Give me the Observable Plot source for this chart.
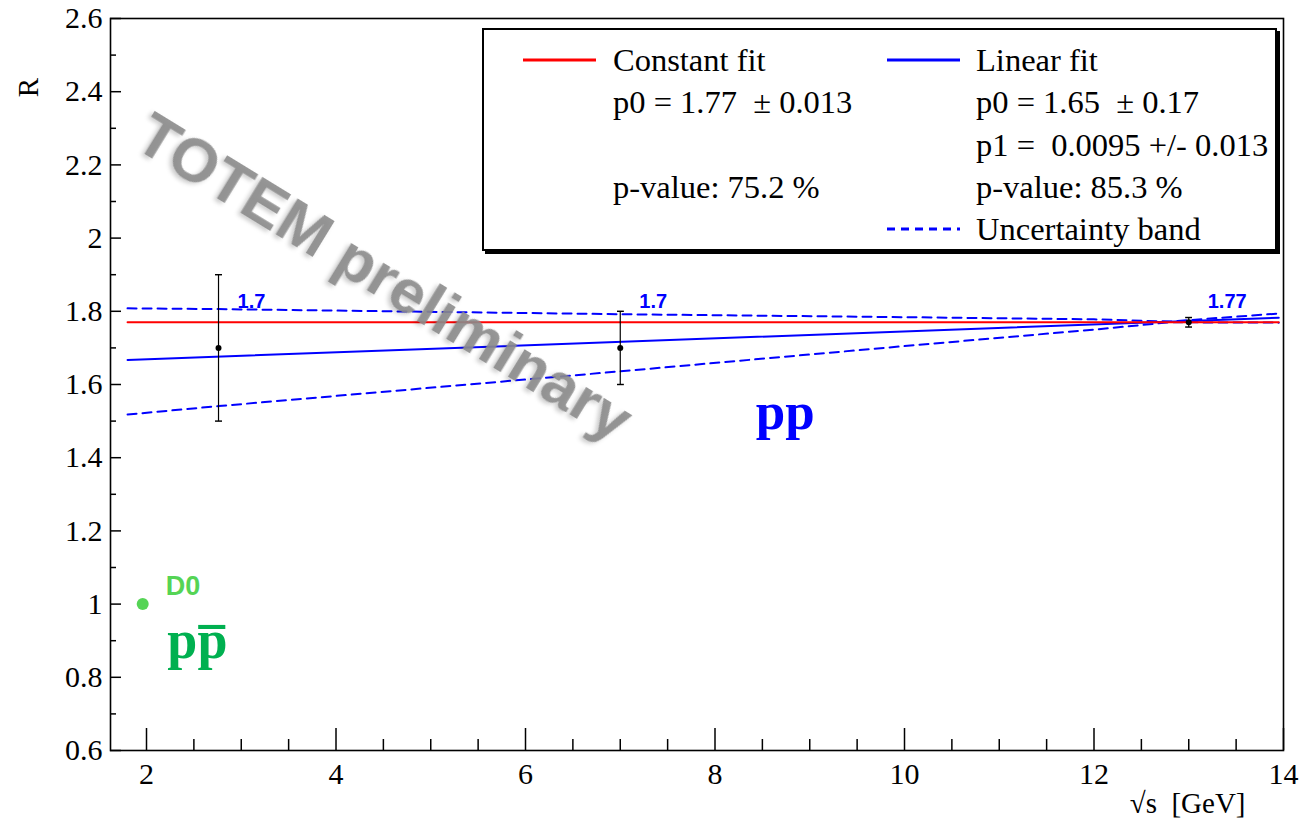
<!DOCTYPE html>
<html>
<head>
<meta charset="utf-8">
<script src="https://cdn.jsdelivr.net/npm/d3@7"></script>
<script src="https://cdn.jsdelivr.net/npm/@observablehq/plot@0.6"></script>
<style>
  html, body { margin: 0; padding: 0; background: #fff; }
  #wrap { position: relative; width: 1303px; height: 823px; }
  #wrap svg text { white-space: pre; }
  #wrap svg g[aria-label*="tick label"] text {
    font-family: "Liberation Serif", "Times New Roman", serif !important;
    font-variant-numeric: normal !important;
  }
  #legend {
    position: absolute; left: 482px; top: 28px; width: 795px; height: 223px;
    box-sizing: border-box; border: 2px solid #000; box-shadow: 3px 3px 0 #000;
    background: #fff; font-family: "Liberation Serif", "Times New Roman", serif;
    font-size: 32.5px; color: #000;
  }
  .lg-swatch { position: absolute; width: 73px; height: 6px; transform: translateY(-50%); }
  .lg-text { position: absolute; white-space: pre; line-height: 1; transform: translateY(-50%); }
</style>
</head>
<body>
<div id="wrap"></div>
<script>
// Measured ratio R at each collision energy (TeV)
const energies = [2.76, 7, 13];
const ratios = [1.7, 1.7, 1.77];
const ratioErrors = [0.2, 0.1, 0.013];

// Tevatron p-pbar measurement
const d0Energy = [1.96];
const d0Ratio = [1.0];

// Fit results
const constP0 = 1.77, constP0Err = 0.013, constPValue = 75.2;
const linP0 = 1.65, linP0Err = 0.17, linP1 = 0.0095, linP1Err = 0.013, linPValue = 85.3;
const fitRange = [1.8, 13.95];

// Uncertainty band of the linear fit
const bandEnergy = [1.8, 2.76, 7, 10, 12, 12.8, 13.95];
const bandUpper  = [1.808, 1.806, 1.792, 1.784, 1.778, 1.772, 1.794];
const bandLower  = [1.518, 1.541, 1.636, 1.705, 1.750, 1.770, 1.769];

// Axis ticks
const xTicks = [2, 4, 6, 8, 10, 12, 14];
const yTicks = [0.6, 0.8, 1, 1.2, 1.4, 1.6, 1.8, 2, 2.2, 2.4, 2.6];
const xMinor = d3.range(2.5, 14, 0.5).filter(v => v % 2 !== 0);
const yMinor = d3.range(0.7, 2.6, 0.2);

const points = energies.map((e, i) => ({e, r: ratios[i], err: ratioErrors[i]}));
const d0 = d0Energy.map((e, i) => ({e, r: d0Ratio[i]}));
const constLine = fitRange.map(e => ({e, r: constP0}));
const linLine = fitRange.map(e => ({e, r: linP0 + linP1 * e}));
const upper = bandEnergy.map((e, i) => ({e, r: bandUpper[i]}));
const lower = bandEnergy.map((e, i) => ({e, r: bandLower[i]}));

const W = 1303, H = 823;
const mL = 110, mR = 20, mT = 18, mB = 73;
const plotW = W - mL - mR, plotH = H - mT - mB;
const serif = "'Liberation Serif', 'Times New Roman', serif";
const sans = "'Liberation Sans', Arial, sans-serif";
const labelRow = 1.827;

const chart = Plot.plot({
  width: W, height: H,
  marginLeft: mL, marginRight: mR, marginTop: mT, marginBottom: mB,
  x: {domain: [1.62, 14]},
  y: {domain: [0.6, 2.6]},
  style: {fontFamily: serif, fontSize: "30px", background: "#fff", overflow: "visible"},
  marks: [
    // ticks drawn inward from the frame
    Plot.ruleX(xMinor, {x: d => d, insetTop: plotH - 11, stroke: "#000", strokeWidth: 1.5}),
    Plot.ruleX(xTicks, {x: d => d, insetTop: plotH - 22, stroke: "#000", strokeWidth: 1.5}),
    Plot.ruleY(yMinor, {y: d => d, insetRight: plotW - 6, stroke: "#000", strokeWidth: 1.5}),
    Plot.ruleY(yTicks, {y: d => d, insetRight: plotW - 11, stroke: "#000", strokeWidth: 1.5}),
    Plot.axisX({ticks: xTicks, tickSize: 0, tickPadding: 12, tickFormat: d => String(d),
      fontFamily: serif, fontSize: 30, fill: "#000", label: null}),
    Plot.axisY({ticks: yTicks, tickSize: 0, tickPadding: 8, tickFormat: d => String(+d.toFixed(1)),
      fontFamily: serif, fontSize: 30, fill: "#000", label: null}),
    Plot.text(["\u221As  [GeV]"], {frameAnchor: "bottom-right", dx: -38, dy: 53, textAnchor: "end",
      lineAnchor: "middle", fontFamily: serif, fontSize: 29}),
    Plot.text(["R"], {frameAnchor: "top-left", dx: -82, dy: 69, rotate: -90, textAnchor: "middle",
      lineAnchor: "middle", fontFamily: serif, fontSize: 29}),

    // fits and band
    Plot.line(upper, {x: "e", y: "r", stroke: "#0000ff", strokeWidth: 2, strokeDasharray: "9,6"}),
    Plot.line(lower, {x: "e", y: "r", stroke: "#0000ff", strokeWidth: 2, strokeDasharray: "9,6"}),
    Plot.line(linLine, {x: "e", y: "r", stroke: "#0000ff", strokeWidth: 2}),
    Plot.line(constLine, {x: "e", y: "r", stroke: "#ff0000", strokeWidth: 2}),

    // measurements
    Plot.link(points, {x1: "e", x2: "e", y1: d => d.r - d.err, y2: d => d.r + d.err,
      stroke: "#000", strokeWidth: 1.2, markerStart: "tick", markerEnd: "tick"}),
    Plot.dot(points, {x: "e", y: "r", r: 3, fill: "#000"}),
    Plot.text(points, {x: "e", y: () => labelRow, text: d => String(d.r), dx: 19, textAnchor: "start",
      lineAnchor: "middle", fill: "#0000ff", fontFamily: sans, fontWeight: "bold", fontSize: 20}),

    Plot.dot(d0, {x: "e", y: "r", r: 6, fill: "#55d455"}),
    Plot.text(d0, {x: "e", y: "r", text: () => "D0", dx: 23, dy: -18, textAnchor: "start",
      lineAnchor: "middle", fill: "#55d455", fontFamily: sans, fontWeight: "bold", fontSize: 27}),

    // process labels
    Plot.text(["pp"], {x: () => 8.43, y: () => 1.525, textAnchor: "start", lineAnchor: "middle",
      fill: "#0000ff", fontFamily: serif, fontWeight: "bold", fontSize: 53}),
    Plot.text(["pp\u0305"], {x: () => 2.22, y: () => 0.90, textAnchor: "start", lineAnchor: "middle",
      fill: "#00b050", fontFamily: serif, fontWeight: "bold", fontSize: 54}),

    // watermark
    Plot.text(["TOTEM preliminary"], {frameAnchor: "top-left", dx: 274, dy: 259, rotate: 31.5,
      textAnchor: "middle", lineAnchor: "middle", fill: "#8c8c8c", fillOpacity: 0.9,
      fontFamily: sans, fontWeight: "bold", fontSize: 62}),

    Plot.frame({stroke: "#000", strokeWidth: 1.6})
  ]
});

d3.select(chart).selectAll("text")
  .filter(function() { return this.textContent === "TOTEM preliminary"; })
  .style("filter", "drop-shadow(-2px 3px 2px rgba(0,0,0,0.22))");

const wrap = document.getElementById("wrap");
wrap.appendChild(chart);

// legend box
const legendRows = [
  {col: 0, row: 0, swatch: "#ff0000", dashed: false, text: "Constant fit"},
  {col: 0, row: 1, text: `p0 = ${constP0}  \u00B1 ${constP0Err}`},
  {col: 0, row: 3, text: `p-value: ${constPValue} %`},
  {col: 1, row: 0, swatch: "#0000ff", dashed: false, text: "Linear fit"},
  {col: 1, row: 1, text: `p0 = ${linP0}  \u00B1 ${linP0Err}`},
  {col: 1, row: 2, text: `p1 =  ${linP1} +/- ${linP1Err}`},
  {col: 1, row: 3, text: `p-value: ${linPValue} %`},
  {col: 1, row: 4, swatch: "#0000ff", dashed: true, text: "Uncertainty band"}
];
const colSwatchX = [39, 403], colTextX = [129, 492];
const rowY = [30, 72, 115, 157, 199];

const legend = document.createElement("div");
legend.id = "legend";
for (const d of legendRows) {
  if (d.swatch) {
    const s = document.createElementNS("http://www.w3.org/2000/svg", "svg");
    s.setAttribute("class", "lg-swatch");
    s.setAttribute("width", 73); s.setAttribute("height", 6);
    s.style.left = colSwatchX[d.col] + "px";
    s.style.top = rowY[d.row] + "px";
    const l = document.createElementNS("http://www.w3.org/2000/svg", "line");
    l.setAttribute("x1", 0); l.setAttribute("x2", 73);
    l.setAttribute("y1", 3); l.setAttribute("y2", 3);
    l.setAttribute("stroke", d.swatch); l.setAttribute("stroke-width", 3);
    if (d.dashed) l.setAttribute("stroke-dasharray", "8,6");
    s.appendChild(l);
    legend.appendChild(s);
  }
  const t = document.createElement("span");
  t.className = "lg-text";
  t.textContent = d.text;
  t.style.left = colTextX[d.col] + "px";
  t.style.top = rowY[d.row] + "px";
  legend.appendChild(t);
}
wrap.appendChild(legend);
</script>
</body>
</html>
